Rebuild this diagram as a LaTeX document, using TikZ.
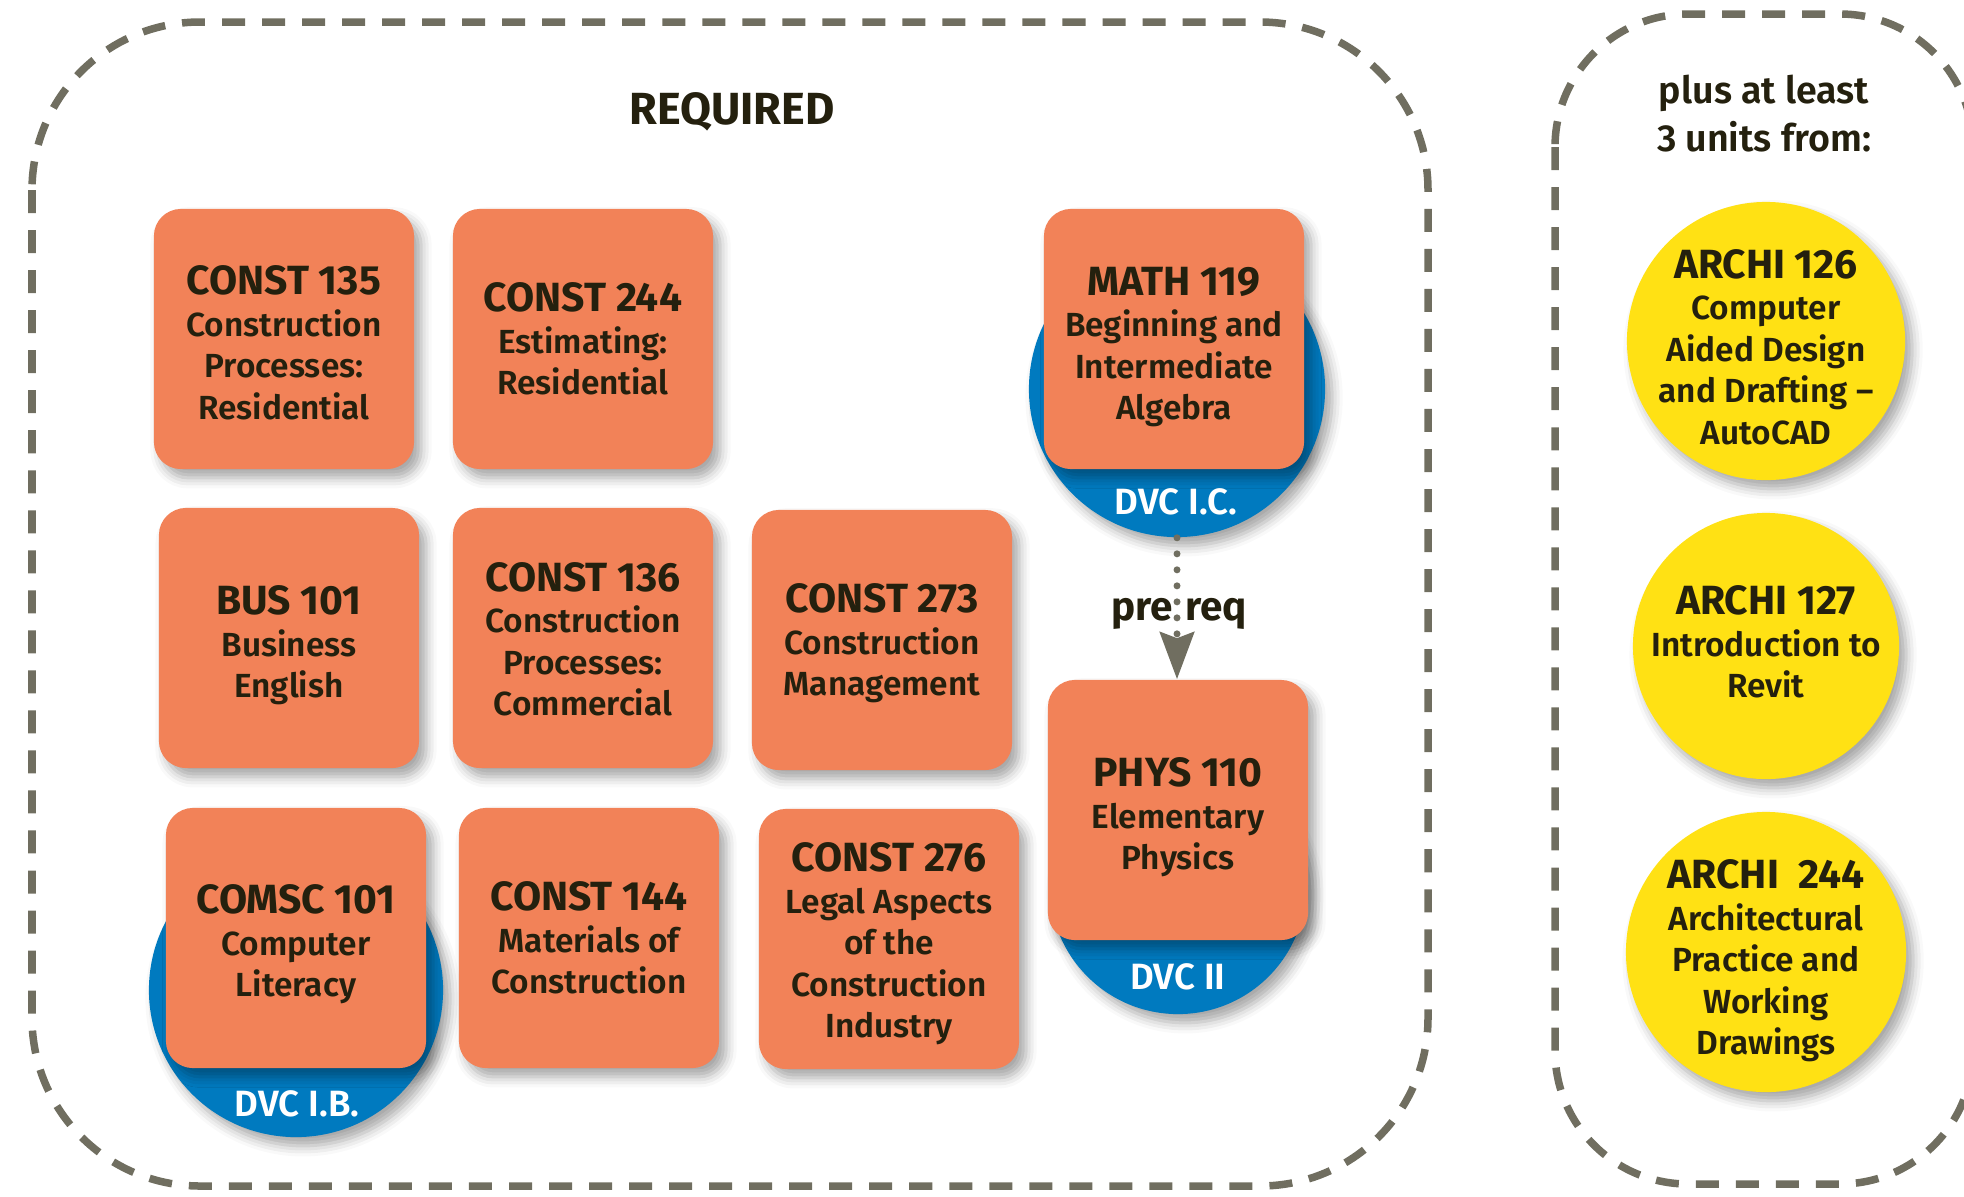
\documentclass[tikz,border=0pt]{standalone}
\usepackage{fontspec}
\setmainfont{Fira Sans}
\newfontfamily\hdfont{Fira Sans Bold}
\newfontfamily\bdfont{Fira Sans SemiBold}
\usepackage{tikz}
\usetikzlibrary{arrows.meta, shadows.blur}

\definecolor{dvcorange}{RGB}{242,130,88}
\definecolor{dvcblue}{RGB}{0,122,191}
\definecolor{dvcyellow}{RGB}{255,225,20}
\definecolor{zonegray}{RGB}{112,110,96}
\definecolor{ink}{RGB}{36,32,14}

% course heading; the optional strut pushes the block a little down in its box
\newcommand{\hd}[2][8pt]{{\hdfont\fontsize{11.6}{11.8}\selectfont\rule{0pt}{#1}#2}}

\tikzset{
  soft/.style={blur shadow={shadow xshift=2pt, shadow yshift=-2.5pt,
      shadow blur radius=3pt, shadow opacity=35}},
  course/.style={rectangle, rounded corners=0.27cm, fill=dvcorange,
    minimum width=2.6cm, minimum height=2.6cm, inner sep=0pt, align=center,
    text=ink, font=\bdfont\fontsize{9.5}{11.8}\selectfont, soft},
  ring/.style={circle, fill=dvcblue, inner sep=0pt, soft},
  ringtag/.style={text=white, font=\bdfont\fontsize{10.4}{12}\selectfont},
  elective/.style={circle, fill=dvcyellow, inner sep=0pt, soft},
  electivetext/.style={align=center, inner sep=0pt, text=ink,
    font=\bdfont\fontsize{9.5}{11.8}\selectfont},
  zone/.style={draw=zonegray, line width=0.075cm,
    dash pattern=on 0.23cm off 0.17cm},
  prereq/.style={draw=zonegray, line width=0.07cm, line cap=round,
    dash pattern=on 0pt off 0.16cm,
    -{Stealth[length=0.47cm, width=0.34cm, inset=0.06cm]}},
}

\begin{document}
\begin{tikzpicture}[x=0.01cm, y=-0.01cm]
  \useasboundingbox (0,0) rectangle (1964,1196);
  \clip (0,0) rectangle (1964,1196);

  \draw[zone, rounded corners=1.68cm] (32,22) rectangle (1428,1186);
  \draw[zone, rounded corners=1.33cm] (1555,14) rectangle (1973,1184);

  \node[text=ink, font=\hdfont\fontsize{12.8}{14}\selectfont] (required) at (732,112) {REQUIRED};
  \node[text=ink, align=center, font=\bdfont\fontsize{10.7}{13.65}\selectfont] (plus) at (1764,114)
    {plus at least\\3 units from:};

  % blue rings behind the courses
  \node[ring, minimum size=2.96cm] (ic) at (1177,389) {};
  \node[ring, minimum size=2.94cm] (ib) at (296,990) {};
  \node[ring, minimum size=2.56cm] (ii) at (1178,886) {};

  \node[course] (const135) at (284,339) {\hd[10.3pt]{CONST 135}\\Construction\\Processes:\\Residential};
  \node[course] (const244) at (583,339) {\hd{CONST 244}\\Estimating:\\Residential};
  \node[course] (math119) at (1174,339) {\hd[12.5pt]{MATH 119}\\Beginning and\\Intermediate\\Algebra};

  \node[course] (bus101) at (289,638) {\hd[12.5pt]{BUS 101}\\Business\\English};
  \node[course] (const136) at (583,638) {\hd[8.9pt]{CONST 136}\\Construction\\Processes:\\Commercial};
  \node[course] (const273) at (882,640) {\hd[10.3pt]{CONST 273}\\Construction\\Management};
  \node[course] (phys110) at (1178,810) {\hd[12.5pt]{PHYS 110}\\Elementary\\Physics};

  \node[course] (comsc101) at (296,938) {\hd[11.8pt]{COMSC 101}\\Computer\\Literacy};
  \node[course] (const144) at (589,938) {\hd{CONST 144}\\Materials of\\Construction};
  \node[course] (const276) at (889,939) {\hd[11pt]{CONST 276}\\Legal Aspects\\of the\\Construction\\Industry};

  \node[ringtag] (ictag) at (1176,502) {DVC I.C.};
  \node[ringtag] (ibtag) at (297,1104) {DVC I.B.};
  \node[ringtag] (iitag) at (1178,977) {DVC II};

  \draw[prereq] (ic.south) -- (ic.south |- phys110.north);
  \node[text=ink, font=\hdfont\fontsize{11.5}{13}\selectfont] (pre) at (1179,614) {pre\hspace{0.3em}req};

  \node[elective, minimum size=2.78cm] (archi126) at (1766,341) {};
  \node[elective, minimum size=2.66cm] (archi127) at (1766,646) {};
  \node[elective, minimum size=2.80cm] (archi244) at (1766,952) {};
  \node[electivetext] (archi126text) at (1766,347)
    {\hd{ARCHI 126}\\Computer\\Aided Design\\and Drafting –\\AutoCAD};
  \node[electivetext] (archi127text) at (1766,642)
    {\hd{ARCHI 127}\\Introduction to\\Revit};
  \node[electivetext] (archi244text) at (1766,961)
    {\hd{ARCHI\ \ 244}\\Architectural\\Practice and\\Working\\Drawings};
\end{tikzpicture}
\end{document}
